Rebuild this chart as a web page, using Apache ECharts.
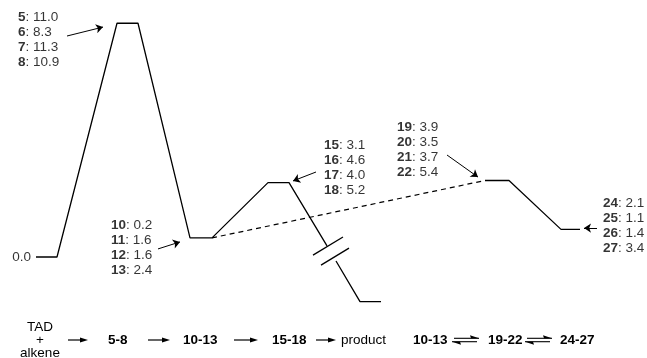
<!DOCTYPE html>
<html>
<head>
<meta charset="utf-8">
<script src="https://cdn.jsdelivr.net/npm/echarts@6/dist/echarts.min.js"></script>
<style>html,body{margin:0;padding:0;background:#fff;}#c{width:647px;height:358px;}</style>
</head>
<body>
<div id="c"></div>
<script>
// ---- data ----
// reaction-coordinate positions (arbitrary units) and relative energies of the schematic profile
const stageX = [36, 57, 117, 138, 190, 212, 268, 289];
const stageE = [0.0, 0.0, 11.0, 11.0, 0.9, 0.9, 3.5, 3.5];
const descentX = [327, 336, 360, 381];       // descent to product (broken axis)
const descentE = [0.52, -0.19, -2.1, -2.1];
const altX = [212, 485];                      // dashed link 10-13 -> 19-22
const altE = [0.9, 3.6];
const alt2X = [485, 509, 561, 580];
const alt2E = [3.6, 3.6, 1.3, 1.3];

const ids58 = ['5', '6', '7', '8'];       const e58 = [11.0, 8.3, 11.3, 10.9];
const ids1013 = ['10', '11', '12', '13']; const e1013 = [0.2, 1.6, 1.6, 2.4];
const ids1518 = ['15', '16', '17', '18']; const e1518 = [3.1, 4.6, 4.0, 5.2];
const ids1922 = ['19', '20', '21', '22']; const e1922 = [3.9, 3.5, 3.7, 5.4];
const ids2427 = ['24', '25', '26', '27']; const e2427 = [2.1, 1.1, 1.4, 3.4];
const startLabel = '0.0';

const schemeSteps = ['5-8', '10-13', '15-18', 'product'];
const schemeEq = ['10-13', '19-22', '24-27'];

// ---- layout ----
const FONT = '"Liberation Sans", Arial, Helvetica, sans-serif';
const LFS = 13.5;
const blockAnchors = [
  [18, 11.65, ids58, e58],
  [111, 1.86, ids1013, e1013],
  [324, 5.62, ids1518, e1518],
  [397, 6.47, ids1922, e1922],
  [603, 2.89, ids2427, e2427]
];
const arrowCoords = [
  [[67, 10.4], [103, 10.82]],
  [[158, 0.38], [180, 0.71]],
  [[316, 4.0], [293, 3.58]],
  [[447, 4.8], [478, 3.76]],
  [[597, 1.36], [584, 1.36]]
];
const breakMarks = [
  [[313, 0.09], [343, 0.94]],
  [[321, -0.38], [349, 0.42]]
];

const zip = (xs, ys) => xs.map((x, i) => [x, ys[i]]);
const lineStyle = {color: '#000', width: 1.3};
function lineSeries(data, extra) {
  return Object.assign({
    type: 'line', data: data, showSymbol: false, symbol: 'none',
    lineStyle: Object.assign({}, lineStyle), silent: true, animation: false
  }, extra || {});
}

const labelData = blockAnchors.map(b => ({
  value: [b[0], b[1]],
  text: b[2].map((id, i) => '{b|' + id + '}{n|: ' + b[3][i].toFixed(1) + '}').join('\n')
}));

const series = [
  lineSeries(zip(stageX, stageE).concat([[descentX[0], descentE[0]]])),
  lineSeries(zip(descentX.slice(1), descentE.slice(1))),
  lineSeries(zip(altX, altE), {lineStyle: {color: '#000', width: 1.2, type: [5, 4]}}),
  lineSeries(zip(alt2X, alt2E)),
  lineSeries(breakMarks[0]),
  lineSeries(breakMarks[1]),
  {
    type: 'lines', coordinateSystem: 'cartesian2d', silent: true, animation: false,
    symbol: ['none', 'arrow'], symbolSize: 7,
    lineStyle: {color: '#000', width: 1, opacity: 1},
    data: arrowCoords.map(c => ({coords: c}))
  },
  {
    type: 'scatter', symbolSize: 0, silent: true, animation: false,
    data: labelData,
    label: {
      show: true, position: [0, 0], align: 'left', verticalAlign: 'top',
      formatter: p => p.data.text,
      rich: {
        b: {fontWeight: 'bold', fontSize: LFS, fontFamily: FONT, color: '#000', lineHeight: 15},
        n: {fontSize: LFS, fontFamily: FONT, color: '#000', lineHeight: 15}
      }
    }
  },
  {
    type: 'scatter', symbolSize: 0, silent: true, animation: false,
    data: [[31, 0]],
    label: {
      show: true, position: [0, 0], align: 'right', verticalAlign: 'middle',
      formatter: startLabel, fontSize: LFS, fontFamily: FONT, color: '#000'
    }
  }
];

// ---- reaction scheme (bottom text row) ----
const Y = 340;
const SFS = 13.5;
const g = [];
function txt(s, x, y, bold, align) {
  g.push({type: 'text', x: x, y: y, silent: true, style: {
    text: s, fill: '#000', font: (bold ? 'bold ' : '') + SFS + 'px ' + FONT,
    textAlign: align || 'left', textVerticalAlign: 'middle'}});
}
function arrow(x1, x2) {
  g.push({type: 'line', silent: true, shape: {x1: x1, y1: Y, x2: x2 - 5, y2: Y}, style: {stroke: '#000', lineWidth: 1.2}});
  g.push({type: 'polygon', silent: true, shape: {points: [[x2, Y], [x2 - 8, Y - 2.6], [x2 - 8, Y + 2.6]]}, style: {fill: '#000'}});
}
function equil(x1, x2) {
  const yt = Y - 1.7, yb = Y + 1.7;
  g.push({type: 'line', silent: true, shape: {x1: x1 + 2, y1: yt, x2: x2, y2: yt}, style: {stroke: '#000', lineWidth: 1.1}});
  g.push({type: 'polygon', silent: true, shape: {points: [[x2, yt], [x2 - 9, yt - 3], [x2 - 8, yt]]}, style: {fill: '#000'}});
  g.push({type: 'line', silent: true, shape: {x1: x1, y1: yb, x2: x2 - 2, y2: yb}, style: {stroke: '#000', lineWidth: 1.1}});
  g.push({type: 'polygon', silent: true, shape: {points: [[x1, yb], [x1 + 9, yb + 3], [x1 + 8, yb]]}, style: {fill: '#000'}});
}
txt('TAD', 40, 327, false, 'center');
txt('+', 40, 340, false, 'center');
txt('alkene', 40, 353, false, 'center');
arrow(68, 88);
txt(schemeSteps[0], 108, Y, true);
arrow(148, 170);
txt(schemeSteps[1], 183, Y, true);
arrow(234, 258);
txt(schemeSteps[2], 272, Y, true);
arrow(316, 336);
txt(schemeSteps[3], 341, Y, false);
txt(schemeEq[0], 413, Y, true);
equil(452, 479);
txt(schemeEq[1], 488, Y, true);
equil(525, 552);
txt(schemeEq[2], 560, Y, true);

const chart = echarts.init(document.getElementById('c'), null, {renderer: 'canvas'});
chart.setOption({
  animation: false,
  backgroundColor: '#fff',
  grid: {left: 0, right: 0, top: 2, bottom: 16, containLabel: false},
  xAxis: {type: 'value', min: 0, max: 647, show: false},
  yAxis: {type: 'value', min: -4, max: 12, show: false},
  series: series,
  graphic: g
});
</script>
</body>
</html>
